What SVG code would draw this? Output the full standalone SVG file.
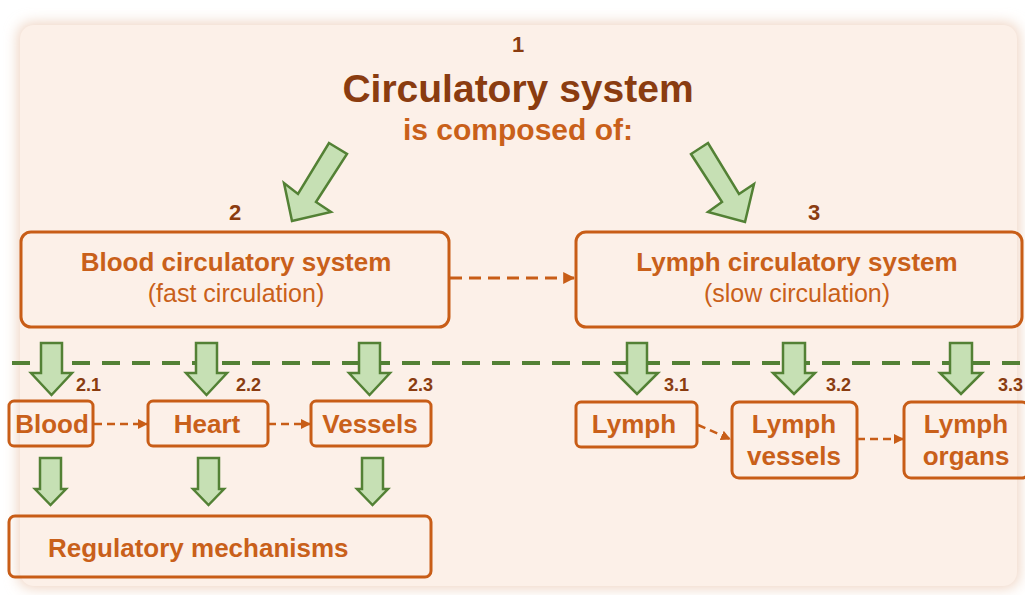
<svg xmlns="http://www.w3.org/2000/svg" width="1025" height="595" viewBox="0 0 1025 595">
<defs>
<filter id="sh" x="-5%" y="-5%" width="110%" height="110%"><feGaussianBlur stdDeviation="7"/></filter>
<marker id="ah" viewBox="0 0 10 10" refX="9" refY="5" markerWidth="4" markerHeight="4" orient="auto"><path d="M0,0 L10,5 L0,10 z" fill="#c85d17"/></marker>
<style>
.box{fill:none;stroke:#c85d17;stroke-width:3}
.t{font-family:"Liberation Sans",Arial,sans-serif;font-weight:bold;fill:#c9601a;text-anchor:middle}
.r{font-family:"Liberation Sans",Arial,sans-serif;fill:#c9601a;text-anchor:middle}
.n{font-family:"Liberation Sans",Arial,sans-serif;font-weight:bold;fill:#8a3c10}
.ga{fill:#c6e0b4;stroke:#538135;stroke-width:2.5;stroke-linejoin:miter}
.dash{stroke:#c85d17;stroke-width:2.5;fill:none;stroke-dasharray:8 5}
</style>
</defs>
<rect width="1025" height="595" fill="#ffffff"/>
<rect x="18" y="23" width="1001" height="565" rx="14" fill="#eed2c0" filter="url(#sh)"/>
<rect x="20" y="25" width="997" height="561" rx="14" fill="#fcf0e8"/>

<g id="title">
<text class="n" x="518" y="52" font-size="22" text-anchor="middle">1</text>
<text class="n" x="518" y="102" font-size="39" text-anchor="middle">Circulatory system</text>
<text class="t" x="518" y="140" font-size="30">is composed of:</text>
</g>

<g id="bigarrows">
<polygon class="ga" points="329,143 347,154 316,202 331,212 292,221 284,183 298,194"/>
<polygon class="ga" points="708,143 691,154 722,202 708,212 745,222 754,184 739,194"/>
</g>

<g id="n2">
<text class="n" x="235" y="220" font-size="22" text-anchor="middle">2</text>
<rect class="box" x="21" y="232" width="428" height="95" rx="10"/>
<text class="t" x="236" y="271" font-size="26">Blood circulatory system</text>
<text class="r" x="236" y="302" font-size="25">(fast circulation)</text>
</g>

<g id="n3">
<text class="n" x="814" y="220" font-size="22" text-anchor="middle">3</text>
<rect class="box" x="576" y="232" width="446" height="95" rx="10"/>
<text class="t" x="797" y="271" font-size="26">Lymph circulatory system</text>
<text class="r" x="797" y="302" font-size="25">(slow circulation)</text>
</g>

<g id="connectors">
<line x1="450" y1="278" x2="574" y2="278" stroke="#c85d17" stroke-width="3" stroke-dasharray="12 7" marker-end="url(#ah)"/>
<line x1="12" y1="363" x2="1025" y2="363" stroke="#538135" stroke-width="4" stroke-dasharray="18 12"/>
<line class="dash" x1="94" y1="424" x2="147" y2="424" marker-end="url(#ah)"/>
<line class="dash" x1="268" y1="424" x2="310" y2="424" marker-end="url(#ah)"/>
<line class="dash" x1="698" y1="425" x2="730" y2="439" marker-end="url(#ah)"/>
<line class="dash" x1="857" y1="439" x2="903" y2="439" marker-end="url(#ah)"/>
</g>

<g id="downarrows">
<polygon class="ga" points="41,343 62,343 62,373 72,373 51.5,395 31,373 41,373"/>
<polygon class="ga" points="196,343 217,343 217,373 227,373 206.5,395 186,373 196,373"/>
<polygon class="ga" points="359,343 380,343 380,373 390,373 369.5,395 349,373 359,373"/>
<polygon class="ga" points="627,343 647,343 647,373 658,373 637,394 616,373 627,373"/>
<polygon class="ga" points="783,343 805,343 805,373 815,373 794,394 773,373 783,373"/>
<polygon class="ga" points="950,343 972,343 972,373 982,373 961,394 940,373 950,373"/>
<polygon class="ga" points="40,458 61,458 61,489 66,489 50.5,505 35,489 40,489"/>
<polygon class="ga" points="198,458 219,458 219,489 224,489 208.5,505 193,489 198,489"/>
<polygon class="ga" points="362,458 383,458 383,489 388,489 372.5,505 357,489 362,489"/>
</g>

<g id="n21">
<text class="n" x="76" y="391" font-size="18">2.1</text>
<rect class="box" x="9" y="401" width="84" height="45" rx="5"/>
<text class="t" x="52" y="433" font-size="26">Blood</text>
</g>
<g id="n22">
<text class="n" x="236" y="391" font-size="18">2.2</text>
<rect class="box" x="148" y="401" width="120" height="45" rx="5"/>
<text class="t" x="207" y="433" font-size="26">Heart</text>
</g>
<g id="n23">
<text class="n" x="408" y="391" font-size="18">2.3</text>
<rect class="box" x="311" y="401" width="120" height="45" rx="5"/>
<text class="t" x="370" y="433" font-size="26">Vessels</text>
</g>
<g id="nreg">
<rect class="box" x="9" y="516" width="422" height="61" rx="6"/>
<text class="t" x="48" y="557" font-size="26" style="text-anchor:start">Regulatory mechanisms</text>
</g>

<g id="n31">
<text class="n" x="664" y="391" font-size="18">3.1</text>
<rect class="box" x="576" y="402" width="121" height="45" rx="5"/>
<text class="t" x="634" y="433" font-size="26">Lymph</text>
</g>
<g id="n32">
<text class="n" x="826" y="391" font-size="18">3.2</text>
<rect class="box" x="732" y="402" width="125" height="76" rx="7"/>
<text class="t" x="794" y="433" font-size="26">Lymph</text>
<text class="t" x="794" y="465" font-size="26">vessels</text>
</g>
<g id="n33">
<text class="n" x="998" y="391" font-size="18">3.3</text>
<rect class="box" x="904" y="402" width="125" height="76" rx="7"/>
<text class="t" x="966" y="433" font-size="26">Lymph</text>
<text class="t" x="966" y="465" font-size="26">organs</text>
</g>
</svg>
